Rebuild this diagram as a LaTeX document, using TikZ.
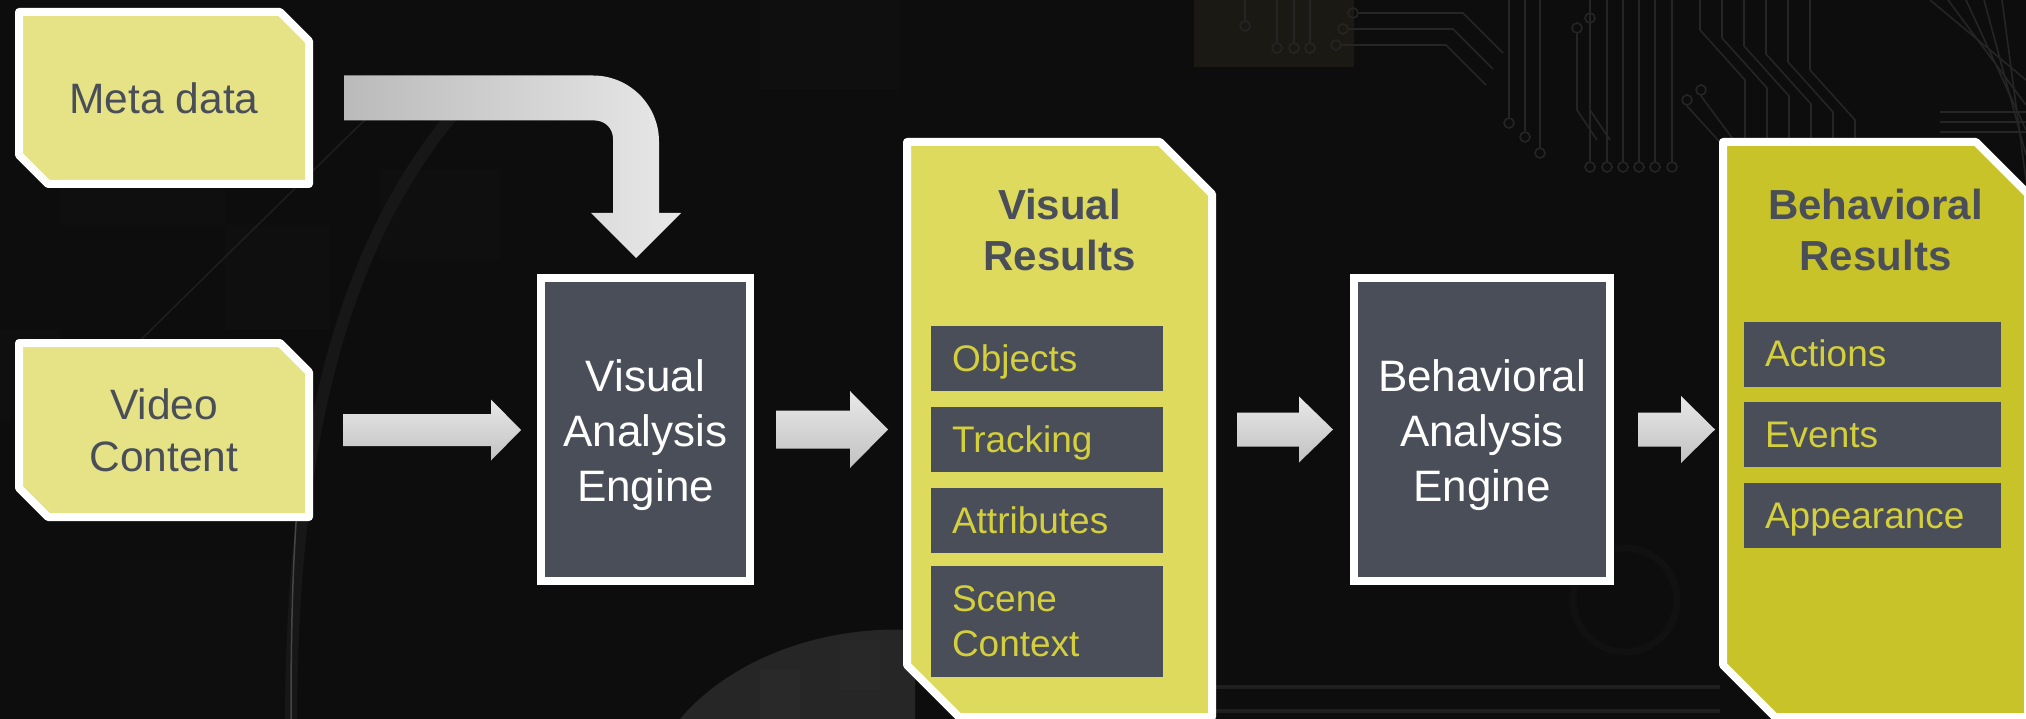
\documentclass[tikz,border=0pt]{standalone}
\usepackage{fontspec}
\setmainfont{Liberation Sans}
\usetikzlibrary{calc}

\definecolor{bgc}{HTML}{0D0D0D}
\definecolor{paleY}{HTML}{E5E386}
\definecolor{midY}{HTML}{DEDA5E}
\definecolor{deepY}{HTML}{C9C32A}
\definecolor{slate}{HTML}{4A4E58}
\definecolor{itemY}{HTML}{D4CF3C}
\definecolor{arrowLight}{HTML}{E8E8E8}
\definecolor{arrowDark}{HTML}{C2C2C2}
\definecolor{trace}{HTML}{252525}
\definecolor{haze}{HTML}{171717}
\definecolor{mound}{HTML}{262626}

\pgfdeclarelayer{back}
\pgfdeclarelayer{mid}
\pgfsetlayers{back,mid,main}

% box with two chamfered corners (north east and south west), drawn behind its node
\newcommand\chamferbox[3]{%
  \begin{pgfonlayer}{mid}
    \filldraw[fill=#3, draw=white, line width=8pt, line join=round]
      (#1.north west) -- ($(#1.north east)+(-#2,0)$) -- ($(#1.north east)+(0,#2)$)
      -- (#1.south east) -- ($(#1.south west)+(#2,0)$) -- ($(#1.south west)+(0,-#2)$) -- cycle;
  \end{pgfonlayer}}

% right-pointing block arrow: start, tip, shaft half height, head half height, head length
\newcommand\blockarrow[5]{%
  \shade[top color=arrowLight, bottom color=arrowDark]
    ($(#1)+(0,-#3)$) -- ($(#2)+(-#5,-#3)$) -- ($(#2)+(-#5,-#4)$) -- (#2)
    -- ($(#2)+(-#5,#4)$) -- ($(#2)+(-#5,#3)$) -- ($(#1)+(0,#3)$) -- cycle;}

\begin{document}
\begin{tikzpicture}[x=1pt, y=-1pt,
  inbox/.style={minimum width=290pt, minimum height=172pt, inner sep=0pt, outer sep=0pt,
    text=slate, align=center, font=\fontsize{42.5}{52}\selectfont},
  engine/.style={draw=white, line width=8pt, fill=slate, inner sep=0pt, outer sep=0pt,
    minimum height=303pt, text=white, align=center, font=\fontsize{44}{55}\selectfont,
    text height=152pt, text depth=9pt},
  panel/.style={minimum width=305pt, minimum height=575pt, inner sep=0pt, outer sep=0pt},
  title/.style={text=slate, align=center, font=\bfseries\fontsize{42}{51}\selectfont},
  item/.style={fill=slate, text=itemY, align=left, inner xsep=21pt, inner ysep=0pt,
    outer sep=0pt, minimum height=65pt, font=\fontsize{37}{45}\selectfont},
  oneline/.style={text height=33.5pt, text depth=7.8pt},
  tr/.style={draw=trace, line width=1.6pt},
]
\useasboundingbox (0,0) rectangle (2026,719);

% ---------- dark textured backdrop ----------
\begin{pgfonlayer}{back}
  \fill[bgc] (0,0) rectangle (2026,719);
  % soft tiles
  \fill[white, opacity=0.012] (60,170) rectangle (225,225);
  \fill[white, opacity=0.01] (225,225) rectangle (330,330);
  \fill[white, opacity=0.01] (0,330) rectangle (60,420);
  \fill[white, opacity=0.01] (380,170) rectangle (500,260);
  \fill[white, opacity=0.008] (120,560) rectangle (290,719);
  \fill[white, opacity=0.01] (760,0) rectangle (900,90);
  % faint olive square
  \fill[yellow!40!black, opacity=0.12] (1194,0) rectangle (1354,67);
  % lens rim
  \draw[haze, line width=12pt] (470,95) .. controls (360,215) and (292,400) .. (291,719);
  \draw[white, opacity=0.2, line width=1.5pt] (300,470) .. controls (292,560) and (291,640) .. (291,719);
  \draw[white, opacity=0.07, line width=1.5pt] (110,370) -- (380,105);
  % lighter mound at the bottom
  \fill[mound] (680,719) .. controls (730,660) and (820,625) .. (915,630) -- (915,719) -- cycle;
  \fill[white, opacity=0.015] (760,670) rectangle (800,719);
  \fill[white, opacity=0.012] (840,640) rectangle (880,690);
  % small ring and streaks lower right
  \draw[bgc!60!haze, line width=7pt] (1625,600) circle[radius=52];
  \draw[white, opacity=0.08, line width=4pt] (1216,687) -- (1720,687);
  \draw[white, opacity=0.08, line width=4pt] (1216,711) -- (1720,711);
  % circuit traces
  \foreach \x in {1590,1607,1623,1639,1655,1672}
    {\draw[tr] (\x,0) -- (\x,161); \draw[tr] (\x,167) circle[radius=5];}
  \foreach \x/\y in {1509/123,1525/137,1540/153}
    {\draw[tr] (\x,0) -- (\x,\y-6); \draw[tr] (\x,\y) circle[radius=5];}
  \foreach \x/\y in {1577/28,1590/18}
    {\draw[tr] (\x,\y+6) -- (\x,110) -- (\x+20,140); \draw[tr] (\x,\y) circle[radius=5];}
  \foreach \i in {0,...,5}
    {\draw[tr] (1700+22*\i,0) -- (1700+22*\i,30+8*\i) -- (1745+22*\i,80+8*\i) -- (1745+22*\i,138);}
  \foreach \x/\y in {1701/90,1687/100}
    {\draw[tr] (\x,\y+6) -- (\x+40,150); \draw[tr] (\x,\y) circle[radius=5];}
  \foreach \i in {0,...,4}
    {\draw[tr] (1930+18*\i,0) -- (2026,80+25*\i);}
  \foreach \i in {0,...,2}
    {\draw[tr] (1940,112+10*\i) -- (2026,112+10*\i);}
  \foreach \x/\y in {1245/26,1277/48,1294/48,1310/48}
    {\draw[tr] (\x,0) -- (\x,\y-6); \draw[tr] (\x,\y) circle[radius=5];}
  \foreach \x/\y in {1336/45,1343/29,1353/13}
    {\draw[tr] (\x+6,\y) -- (\x+110,\y) -- (\x+150,\y+40); \draw[tr] (\x,\y) circle[radius=5];}
\end{pgfonlayer}

% ---------- inputs ----------
\node[inbox] (meta) at (164,98) {Meta data};
\node[inbox, minimum height=174pt] (vid) at (164,430) {Video\\Content};
\chamferbox{meta}{29}{paleY}
\chamferbox{vid}{29}{paleY}

% ---------- engines ----------
\node[engine, minimum width=209pt] (vae) at (645.5,429.5) {Visual\\Analysis\\Engine};
\node[engine, minimum width=256pt] (bae) at (1482,429.5) {Behavioral\\Analysis\\Engine};

% ---------- result panels ----------
\node[panel] (vr) at (1059.5,429.5) {};
\node[panel] (br) at (1875.5,429.5) {};
\chamferbox{vr}{52}{midY}
\chamferbox{br}{52}{deepY}

\node[title] (vrt) at (1059.5,230) {Visual\\Results};
\node[title] (brt) at (1875.5,230) {Behavioral\\Results};

\node[item, oneline, text width=190pt] (obj) at (1047,358.5) {Objects};
\node[item, oneline, text width=190pt] (trk) at (1047,439.5) {Tracking};
\node[item, oneline, text width=190pt] (att) at (1047,520.5) {Attributes};
\node[item, text width=190pt, minimum height=111pt] (scn) at (1047,621.5) {Scene\\Context};

\node[item, oneline, text width=215pt] (act) at (1872.5,354) {Actions};
\node[item, oneline, text width=215pt] (evt) at (1872.5,434.5) {Events};
\node[item, oneline, text width=215pt] (app) at (1872.5,515.5) {Appearance};

% ---------- connectors ----------
\coordinate (b0) at ($(meta.east)+(35,0)$);
\coordinate (b1) at ($(vae.north)+(-9.5,-20)$);
\shade[left color=black!27, right color=black!9]
  let \p1=(b0), \p2=(b1) in
  (\x1,\y1+22.5pt) -- (\x2+23pt-66pt,\y1+22.5pt)
  arc[start angle=90, end angle=0, radius=66pt]
  -- (\x2+23pt,\y2+45pt) -- (\x2+45pt,\y2+45pt) -- (\x2,\y2)
  -- (\x2-45pt,\y2+45pt) -- (\x2-23pt,\y2+45pt)
  -- (\x2-23pt,\y1-22.5pt-18pt)
  arc[start angle=0, end angle=90, radius=18pt]
  -- (\x1,\y1-22.5pt) -- cycle;

\coordinate (a1s) at ($(vid.east)+(34,0)$);
\coordinate (a1t) at ($(a1s -| vae.west)+(-20,0)$);
\blockarrow{a1s}{a1t}{16}{30.5}{30}

\coordinate (a2s) at ($(vae.east)+(26,0)$);
\coordinate (a2t) at ($(a2s -| vr.west)+(-19,0)$);
\blockarrow{a2s}{a2t}{19}{38.5}{38}

\coordinate (a3s) at ($(vr.east)+(25,0)$);
\coordinate (a3t) at ($(a3s -| bae.west)+(-21,0)$);
\blockarrow{a3s}{a3t}{17}{33}{34}

\coordinate (a4s) at ($(bae.east)+(28,0)$);
\coordinate (a4t) at ($(a4s -| br.west)+(-8,0)$);
\blockarrow{a4s}{a4t}{17}{33.5}{34}
\end{tikzpicture}
\end{document}
